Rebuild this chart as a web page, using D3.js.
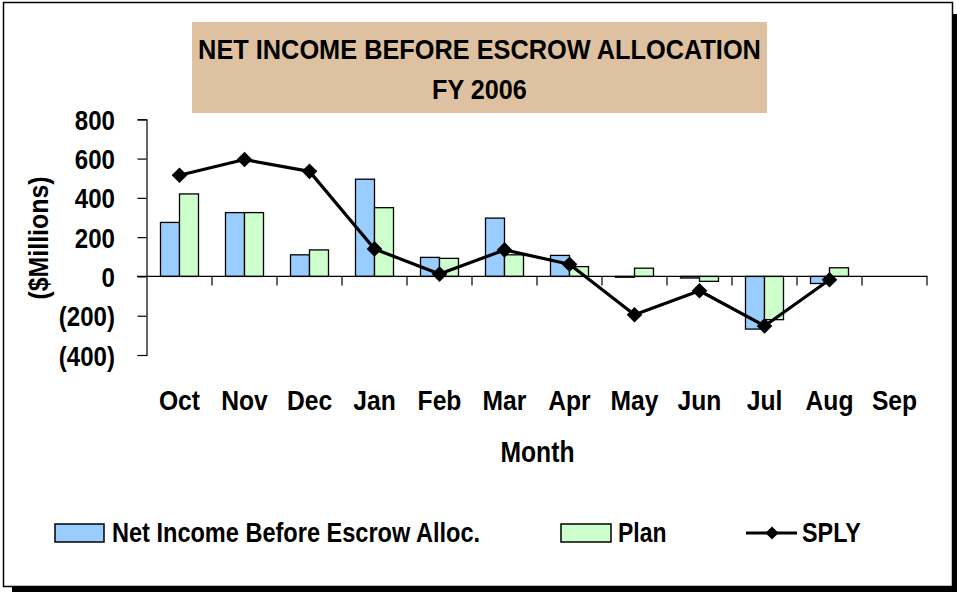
<!DOCTYPE html>
<html>
<head>
<meta charset="utf-8">
<script src="https://cdn.jsdelivr.net/npm/d3@7"></script>
<style>
  html, body { margin: 0; padding: 0; background: #fff; }
  svg { display: block; }
  text { font-family: "Liberation Sans", Arial, sans-serif; font-weight: bold; fill: #000; }
</style>
</head>
<body>
<svg id="chart" width="957" height="592"></svg>
<script>
// ---- data ----
const months = ["Oct", "Nov", "Dec", "Jan", "Feb", "Mar", "Apr", "May", "Jun", "Jul", "Aug", "Sep"];
const netIncome = [275, 325, 110, 495, 97, 297, 107, -4, -8, -268, -36, null];
const plan = [420, 325, 135, 350, 92, 110, 50, 42, -25, -220, 44, null];
const sply = [515, 595, 535, 140, 12, 135, 62, -195, -73, -252, -17, null];
const yTicks = [-400, -200, 0, 200, 400, 600, 800];
const titleLines = ["NET INCOME BEFORE ESCROW ALLOCATION", "FY 2006"];
const seriesNames = ["Net Income Before Escrow Alloc.", "Plan", "SPLY"];

const W = 957, H = 592;
const svg = d3.select("#chart");

// horizontal condensing (narrow typeface look) around each text's anchor point
function narrow(sel, k) {
  sel.each(function () {
    const t = d3.select(this);
    const tx = +t.attr("x") || 0, ty = +t.attr("y") || 0;
    const prev = t.attr("transform") || "";
    t.attr("transform", `${prev} translate(${tx},${ty}) scale(${k},1) translate(${-tx},${-ty})`);
  });
}

svg.append("rect").attr("x", 0).attr("y", 0).attr("width", W).attr("height", H).attr("fill", "#fff");

// frame + shadow
svg.append("rect").attr("x", 953).attr("y", 14).attr("width", 4).attr("height", H - 14).attr("fill", "#000");
svg.append("rect").attr("x", 12).attr("y", 587).attr("width", W - 12).attr("height", 5).attr("fill", "#000");
svg.append("rect").attr("x", 3.5).attr("y", 2.5).attr("width", 949).attr("height", 584)
  .attr("fill", "none").attr("stroke", "#000").attr("stroke-width", 1.5);

// title
svg.append("rect").attr("x", 192).attr("y", 22).attr("width", 575).attr("height", 91).attr("fill", "#DDC1A0");
const t1 = svg.append("text").attr("x", 479.5).attr("y", 59).attr("text-anchor", "middle")
  .attr("font-size", 28).text(titleLines[0]);
const t2 = svg.append("text").attr("x", 479.5).attr("y", 99).attr("text-anchor", "middle")
  .attr("font-size", 28).text(titleLines[1]);
narrow(t1, 0.905); narrow(t2, 0.9);

// scales
const x = d3.scaleBand().domain(months).range([147, 927]).paddingInner(0).paddingOuter(0);
const y = d3.scaleLinear().domain([-400, 800]).range([355, 119.3]);
const barW = 19;

const fmt = v => v < 0 ? "(" + d3.format(",")(Math.abs(v)) + ")" : d3.format(",")(v);

// y axis
const yAxis = d3.axisLeft(y).tickValues(yTicks).tickSize(9).tickFormat(fmt).tickPadding(22.5);
const gy = svg.append("g").attr("transform", "translate(146.5,0)").call(yAxis);
gy.select(".domain").attr("stroke", "#000").attr("stroke-width", 1.2);
gy.selectAll(".tick line").attr("stroke", "#000").attr("stroke-width", 1.2);
gy.selectAll(".tick text").attr("font-size", 28).attr("font-weight", "bold")
  .attr("font-family", "'Liberation Sans', Arial, sans-serif").attr("fill", "#000").attr("dy", "0.36em");
narrow(gy.selectAll(".tick text"), 0.86);

// bars
const g = svg.append("g");
const barData = months.map((m, i) => ({ m, ni: netIncome[i], pl: plan[i] }));
g.selectAll("rect.ni").data(barData.filter(d => d.ni !== null)).join("rect").attr("class", "ni")
  .attr("x", d => x(d.m) + x.bandwidth() / 2 - barW)
  .attr("y", d => y(Math.max(0, d.ni)))
  .attr("width", barW)
  .attr("height", d => Math.abs(y(d.ni) - y(0)))
  .attr("fill", "#99CCFF").attr("stroke", "#000").attr("stroke-width", 1.3);
g.selectAll("rect.pl").data(barData.filter(d => d.pl !== null)).join("rect").attr("class", "pl")
  .attr("x", d => x(d.m) + x.bandwidth() / 2)
  .attr("y", d => y(Math.max(0, d.pl)))
  .attr("width", barW)
  .attr("height", d => Math.abs(y(d.pl) - y(0)))
  .attr("fill", "#CCFFCC").attr("stroke", "#000").attr("stroke-width", 1.3);

// x axis at zero
const xAxisG = svg.append("g");
xAxisG.append("line").attr("x1", 137).attr("x2", 927.5).attr("y1", y(0)).attr("y2", y(0))
  .attr("stroke", "#000").attr("stroke-width", 1.2);
const bounds = months.map(m => x(m)).concat([x(months[months.length - 1]) + x.bandwidth()]).slice(1);
xAxisG.selectAll("line.tk").data(bounds).join("line").attr("class", "tk")
  .attr("x1", d => d).attr("x2", d => d).attr("y1", y(0)).attr("y2", y(0) + 9)
  .attr("stroke", "#000").attr("stroke-width", 1.2);

// x labels
const xl = svg.append("g").selectAll("text").data(months).join("text")
  .attr("x", d => x(d) + x.bandwidth() / 2).attr("y", 410.5).attr("text-anchor", "middle")
  .attr("font-size", 28).text(d => d);
narrow(xl, 0.88);

// SPLY line
const spData = months.map((m, i) => ({ m, v: sply[i] })).filter(d => d.v !== null);
const line = d3.line().x(d => x(d.m) + x.bandwidth() / 2).y(d => y(d.v));
svg.append("path").datum(spData).attr("d", line).attr("fill", "none")
  .attr("stroke", "#000").attr("stroke-width", 3.2).attr("stroke-linejoin", "round");
const diamond = d3.symbol().type(d3.symbolSquare).size(122);
svg.append("g").selectAll("path").data(spData).join("path")
  .attr("d", diamond)
  .attr("transform", d => `translate(${x(d.m) + x.bandwidth() / 2},${y(d.v)}) rotate(45)`)
  .attr("fill", "#000");

// axis titles
const yt = svg.append("text").attr("x", 0).attr("y", 0)
  .attr("transform", "translate(48,238) rotate(-90)").attr("text-anchor", "middle")
  .attr("font-size", 28).text("($Millions)");
narrow(yt, 0.89);
const xt = svg.append("text").attr("x", 537.5).attr("y", 462.5).attr("text-anchor", "middle")
  .attr("font-size", 29).text("Month");
narrow(xt, 0.85);

// legend
const lg = svg.append("g");
lg.append("rect").attr("x", 55).attr("y", 524).attr("width", 49).attr("height", 18)
  .attr("fill", "#99CCFF").attr("stroke", "#000").attr("stroke-width", 1.5);
const l1 = lg.append("text").attr("x", 112).attr("y", 542.5).attr("font-size", 27).text(seriesNames[0]);
lg.append("rect").attr("x", 561).attr("y", 524).attr("width", 50).attr("height", 18)
  .attr("fill", "#CCFFCC").attr("stroke", "#000").attr("stroke-width", 1.5);
const l2 = lg.append("text").attr("x", 618).attr("y", 542.5).attr("font-size", 27).text(seriesNames[1]);
lg.append("line").attr("x1", 746).attr("x2", 797).attr("y1", 533).attr("y2", 533)
  .attr("stroke", "#000").attr("stroke-width", 3);
lg.append("path").attr("d", d3.symbol().type(d3.symbolSquare).size(86))
  .attr("transform", "translate(772,533) rotate(45)").attr("fill", "#000");
const l3 = lg.append("text").attr("x", 802).attr("y", 542.5).attr("font-size", 27).text(seriesNames[2]);
narrow(l1, 0.872); narrow(l2, 0.85); narrow(l3, 0.865);
</script>
</body>
</html>
